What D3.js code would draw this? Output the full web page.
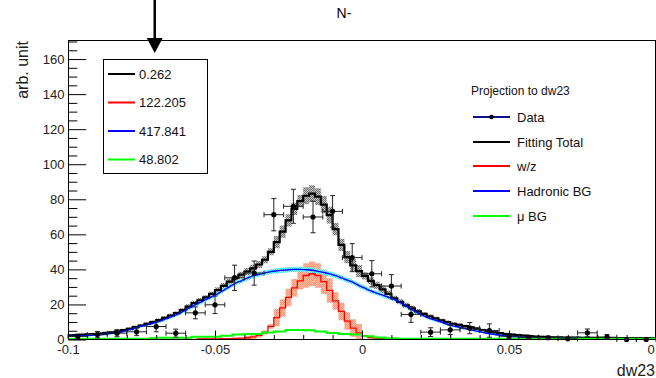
<!doctype html>
<html>
  <head>
    <meta charset="utf-8">
    <script src="https://d3js.org/d3.v7.min.js"></script>
    <style>
      body { margin: 0; background: #fff; }
      text { font-family: "Liberation Sans", Arial, Helvetica, sans-serif; }
    </style>
  </head>
  <body>
    <script>
    /***********************************************/
    /******************** Data *********************/
    /***********************************************/

    // measured points, 30 bins over [-0.1, 0.1]
    const dataY   = [1.8, 2.8, 3.6, 4.4, 7.4, 3.6, 15.2, 19.8, 35.2, 37.9,
                     71.2, 76.0, 69.9, 73.1, 46.7, 37.5, 30.5, 14.3, 4.2, 5.5,
                     6.5, 5.1, 1.9, 1.3, 1.0, 0.4, 3.8, 1.3, 0.0, 0.0];
    const dataErr = [1.2, 1.8, 2.0, 2.2, 3.0, 2.3, 3.4, 5.0, 7.2, 6.9,
                     9.2, 9.7, 9.0, 9.0, 8.0, 7.5, 6.5, 4.5, 2.5, 2.7,
                     3.2, 3.8, 1.4, 1.0, 1.0, 0.8, 2.2, 1.5, 1.0, 0.6];

    // fit templates, 100 bins over [-0.1, 0.1]
    const fitTotal = [2.3, 2.5, 2.7, 2.9, 3.1, 3.4, 3.7, 4.1, 4.6, 5.3,
                      6.1, 7.1, 8.0, 8.9, 9.9, 11.0, 12.3, 13.7, 15.0, 16.8,
                      18.8, 20.8, 22.4, 24.0, 26.0, 28.2, 30.6, 33.0, 35.2, 37.0,
                      38.8, 40.6, 42.8, 45.5, 50.0, 55.5, 61.5, 68.0, 74.5, 79.0,
                      82.0, 83.2, 81.5, 77.0, 71.0, 63.0, 54.0, 47.0, 42.3, 39.0,
                      36.3, 33.5, 31.0, 28.6, 26.0, 23.5, 21.5, 19.5, 17.8, 16.0,
                      14.6, 13.2, 12.0, 10.9, 9.9, 9.0, 8.3, 7.6, 7.0, 6.2,
                      5.4, 4.6, 4.1, 3.6, 3.1, 2.8, 2.5, 2.2, 1.9, 1.7,
                      1.5, 1.35, 1.25, 1.2, 1.15, 1.1, 1.05, 1.0, 1.0, 0.95,
                      0.9, 0.9, 0.85, 0.85, 0.8, 0.8, 0.8, 0.75, 0.75, 0.7];
    const wzFit    = [0, 0, 0, 0, 0, 0, 0, 0, 0, 0,
                      0, 0, 0, 0, 0, 0.1, 0.1, 0.1, 0.1, 0.1,
                      0.1, 0.1, 0.3, 0.3, 0.4, 0.4, 0.5, 0.5, 0.6, 0.8,
                      1.0, 1.5, 2.3, 4.0, 7.5, 12.5, 18.0, 24.0, 29.5, 33.5,
                      36.5, 37.5, 36.5, 33.0, 28.0, 22.0, 16.0, 10.5, 6.5, 3.8,
                      2.0, 1.1, 0.7, 0.5, 0.4, 0.4, 0.3, 0.3, 0.3, 0.3,
                      0.2, 0.2, 0.2, 0.2, 0.2, 0.2, 0.2, 0.2, 0.2, 0.2,
                      0.1, 0.1, 0.1, 0.1, 0.1, 0.1, 0.1, 0.1, 0.1, 0.1,
                      0.1, 0.1, 0.1, 0.1, 0.1, 0.1, 0.1, 0.1, 0.1, 0.1,
                      0.1, 0.1, 0.1, 0.1, 0.1, 0.1, 0.1, 0.1, 0.1, 0.1];
    const hadFit   = [1.9, 2.0, 2.1, 2.3, 2.5, 2.7, 3.1, 3.5, 3.9, 4.7,
                      5.6, 6.6, 7.6, 8.5, 9.4, 10.4, 11.6, 12.9, 14.2, 15.9,
                      17.8, 19.6, 21.2, 22.9, 24.5, 26.2, 28.2, 30.2, 32.1, 33.5,
                      35.0, 36.4, 37.2, 38.0, 38.7, 39.2, 39.5, 39.8, 40.0, 40.0,
                      39.8, 39.5, 38.9, 38.2, 37.4, 36.4, 35.2, 33.9, 32.6, 30.8,
                      29.3, 27.7, 26.5, 25.3, 24.1, 22.9, 21.0, 19.0, 17.0, 15.2,
                      13.5, 12.0, 11.0, 10.0, 8.7, 7.8, 7.0, 6.2, 5.5, 4.8,
                      4.1, 3.4, 2.9, 2.4, 2.0, 1.7, 1.5, 1.3, 1.1, 1.0,
                      0.9, 0.8, 0.75, 0.7, 0.65, 0.6, 0.55, 0.5, 0.5, 0.45,
                      0.45, 0.4, 0.4, 0.4, 0.35, 0.35, 0.35, 0.3, 0.3, 0.3];
    const muFit    = [0.4, 0.4, 0.4, 0.4, 0.4, 0.4, 0.4, 0.4, 0.4, 0.4,
                      0.4, 0.4, 0.4, 0.4, 0.8, 1.0, 1.0, 1.0, 1.0, 1.0,
                      1.0, 1.6, 1.6, 1.6, 1.6, 1.6, 2.2, 2.2, 2.8, 2.8,
                      3.2, 3.2, 3.2, 4.0, 4.0, 4.6, 4.6, 5.4, 5.4, 5.4,
                      5.3, 5.3, 4.6, 4.6, 3.7, 3.7, 3.2, 3.2, 2.8, 2.8,
                      1.9, 1.9, 1.1, 1.1, 0.7, 0.7, 0.4, 0.4, 0.4, 0.4,
                      0.4, 0.4, 0.4, 0.4, 0.4, 0.4, 0.4, 0.4, 0.4, 0.4,
                      0.4, 0.4, 0.4, 0.4, 0.4, 0.4, 0.4, 0.4, 0.4, 0.4,
                      0.4, 0.4, 0.4, 0.4, 0.4, 0.4, 0.4, 0.4, 0.4, 0.4,
                      0.4, 0.4, 0.4, 0.4, 0.4, 0.4, 0.4, 0.4, 0.4, 0.4];

    // uncertainty bands, one half-width per 0.01 slice
    const totalBand = [0.8, 0.8, 0.9, 1.0, 1.3, 1.6, 2.0, 3.5, 4.8, 3.5,
                       2.0, 1.4, 1.0, 0.8, 0.7, 0.6, 0.6, 0.6, 0.6, 0.6];
    const wzBand    = [0, 0, 0, 0, 0.2, 0.4, 1.2, 5.0, 7.0, 5.0,
                       0.6, 0.3, 0.2, 0, 0, 0, 0, 0, 0, 0];
    const hadBand   = [0.5, 0.6, 0.8, 1.0, 1.2, 1.3, 1.4, 1.5, 1.5, 1.4,
                       1.3, 1.1, 0.9, 0.7, 0.6, 0.5, 0.4, 0.4, 0.4, 0.4];

    const xMajor = [-0.1, -0.05, 0, 0.05, 0.1];
    const yMajor = [0, 20, 40, 60, 80, 100, 120, 140, 160];
    const cutValue = -0.0705;

    const boxLabels  = ['0.262', '122.205', '417.841', '48.802'];
    const boxColors  = ['#000', '#ff0000', '#0000ff', '#00ff00'];
    const legLabels  = ['Data', 'Fitting Total', 'w/z', 'Hadronic BG', '\u03bc BG'];
    const legColors  = ['#10108a', '#000', '#ff0000', '#0000ff', '#00ff00'];

    /***********************************************/
    /****************** Scales *********************/
    /***********************************************/

    const width = 656, height = 378;
    const fL = 68, fT = 41, fR = 655.5, fB = 339.5;

    const x = d3.scaleLinear().domain([-0.1, 0.1]).range([fL, 656]);
    const y = d3.scaleLinear().domain([0, 170.3]).range([fB, fT]);

    const svg = d3.select('body').append('svg')
                  .attr('width', width)
                  .attr('height', height);

    const defs = svg.append('defs');
    defs.append('clipPath').attr('id', 'frameClip')
        .append('rect').attr('x', fL).attr('y', fT).attr('width', fR - fL).attr('height', fB - fT);

    function checker(id, bg, fg) {
      const p = defs.append('pattern').attr('id', id)
                    .attr('width', 2).attr('height', 2)
                    .attr('patternUnits', 'userSpaceOnUse');
      p.append('rect').attr('width', 2).attr('height', 2).attr('fill', bg);
      p.append('rect').attr('width', 1).attr('height', 1).attr('fill', fg);
      p.append('rect').attr('x', 1).attr('y', 1).attr('width', 1).attr('height', 1).attr('fill', fg);
    }
    checker('greyFill', '#c4c4c4', '#6e6e6e');
    checker('salmonFill', '#ffc0a8', '#ff9070');
    checker('cyanFill', '#a8f4ff', '#33e0f2');

    /***********************************************/
    /*************** Fit histograms ****************/
    /***********************************************/

    const nFine = fitTotal.length;
    const wFine = 0.2 / nFine;

    // each bin as two points at its edges -> staircase
    function stepPoints(vals, band) {
      const pts = [];
      vals.forEach((v, i) => {
        const e = band ? band[Math.floor(i * band.length / vals.length)] : 0;
        const lo = -0.1 + i * wFine, hi = lo + wFine;
        pts.push({x: lo, v: v, e: e});
        pts.push({x: hi, v: v, e: e});
      });
      return pts;
    }

    const bandArea = d3.area()
      .x(d => x(d.x))
      .y0(d => y(Math.max(0, d.v - d.e)))
      .y1(d => y(d.v + d.e));

    const stepLine = d3.line().x(d => x(d.x)).y(d => y(d.v));

    const plotG = svg.append('g').attr('clip-path', 'url(#frameClip)');

    plotG.append('path').attr('d', bandArea(stepPoints(fitTotal, totalBand)))
         .attr('fill', 'url(#greyFill)');
    plotG.append('path').attr('d', bandArea(stepPoints(wzFit, wzBand)))
         .attr('fill', 'url(#salmonFill)');

    // hadronic BG is a smooth curve through bin centres
    const hadPts = hadFit.map((v, i) => ({x: -0.1 + (i + 0.5) * wFine, v: v,
                                          e: hadBand[Math.floor(i * hadBand.length / nFine)]}));
    hadPts.unshift({x: -0.1, v: hadFit[0], e: hadBand[0]});
    hadPts.push({x: 0.1, v: hadFit[nFine - 1], e: hadBand[hadBand.length - 1]});

    plotG.append('path').attr('d', bandArea.curve(d3.curveMonotoneX)(hadPts))
         .attr('fill', 'url(#cyanFill)');
    bandArea.curve(d3.curveLinear);

    plotG.append('path').attr('d', stepLine(stepPoints(fitTotal)))
         .attr('fill', 'none').attr('stroke', '#000').attr('stroke-width', 2.2);
    plotG.append('path').attr('d', stepLine(stepPoints(wzFit)))
         .attr('fill', 'none').attr('stroke', '#ff0000').attr('stroke-width', 1.3);
    plotG.append('path').attr('d', stepLine.curve(d3.curveMonotoneX)(hadPts))
         .attr('fill', 'none').attr('stroke', '#0000ff').attr('stroke-width', 1.4);
    stepLine.curve(d3.curveLinear);
    plotG.append('path').attr('d', stepLine(stepPoints(muFit)))
         .attr('fill', 'none').attr('stroke', '#00ff00').attr('stroke-width', 2);

    /***********************************************/
    /**************** Data points ******************/
    /***********************************************/

    const wData = 0.2 / dataY.length;
    const pts = dataY.map((v, i) => ({xc: -0.1 + (i + 0.5) * wData, v: v, e: dataErr[i]}));
    const cap = 2.5;

    const ptG = svg.append('g').attr('stroke', '#222').attr('stroke-width', 1);
    pts.forEach(p => {
      const cx = x(p.xc), cy = y(p.v);
      const xl = x(p.xc - wData / 2), xr = x(p.xc + wData / 2);
      const yt = y(p.v + p.e), yb = y(Math.max(0, p.v - p.e));
      ptG.append('line').attr('x1', xl).attr('x2', xr).attr('y1', cy).attr('y2', cy);
      ptG.append('line').attr('x1', cx).attr('x2', cx).attr('y1', yt).attr('y2', yb);
      ptG.append('line').attr('x1', xl).attr('x2', xl).attr('y1', cy - cap).attr('y2', cy + cap);
      ptG.append('line').attr('x1', xr).attr('x2', xr).attr('y1', cy - cap).attr('y2', cy + cap);
      ptG.append('line').attr('x1', cx - cap).attr('x2', cx + cap).attr('y1', yt).attr('y2', yt);
      ptG.append('line').attr('x1', cx - cap).attr('x2', cx + cap).attr('y1', yb).attr('y2', yb);
    });
    svg.append('g').selectAll('circle').data(pts).enter()
       .append('circle')
       .attr('cx', d => x(d.xc)).attr('cy', d => y(d.v))
       .attr('r', 2.6).attr('fill', '#000');

    /***********************************************/
    /******************* Axes **********************/
    /***********************************************/

    svg.append('rect').attr('x', fL + 0.5).attr('y', fT - 0.5)
       .attr('width', fR - fL - 0.5).attr('height', fB - fT + 0.5)
       .attr('fill', 'none').attr('stroke', '#000').attr('stroke-width', 1);

    const xFmt = d => d === 0 ? '0' : String(+d.toFixed(2));
    const xMinor = d3.range(-0.1, 0.1001, 0.01).filter(v => Math.abs(Math.round(v * 20) - v * 20) > 1e-6);
    const yMinor = d3.range(0, 171, 5).filter(v => v % 20 !== 0);

    const xAxisG = svg.append('g').attr('transform', 'translate(0,' + fB + ')');
    xAxisG.call(d3.axisBottom(x).tickValues(xMinor).tickSizeInner(-4.5).tickSizeOuter(0).tickFormat(''));
    xAxisG.append('g').call(d3.axisBottom(x).tickValues(xMajor).tickSizeInner(-9).tickSizeOuter(0)
          .tickPadding(5.5).tickFormat(xFmt));

    const yAxisG = svg.append('g').attr('transform', 'translate(' + (fL + 0.5) + ',0)');
    yAxisG.call(d3.axisLeft(y).tickValues(yMinor).tickSizeInner(-8.8).tickSizeOuter(0).tickFormat(''));
    yAxisG.append('g').call(d3.axisLeft(y).tickValues(yMajor).tickSizeInner(-17.6).tickSizeOuter(0)
          .tickPadding(4).tickFormat(d3.format('d')));

    svg.selectAll('.domain').remove();
    svg.selectAll('.tick line').attr('stroke', '#000');
    svg.selectAll('.tick text').attr('fill', '#222')
       .attr('font-size', 13)
       .attr('font-family', '"Liberation Sans", Arial, sans-serif');

    svg.append('text').attr('transform', 'translate(28,' + fT + ') rotate(-90)')
       .attr('text-anchor', 'end').attr('font-size', 16).attr('fill', '#222')
       .text('arb. unit');
    svg.append('text').attr('x', 655).attr('y', 376)
       .attr('text-anchor', 'end').attr('font-size', 16).attr('fill', '#222')
       .text('dw23');
    svg.append('text').attr('x', 344).attr('y', 18)
       .attr('text-anchor', 'middle').attr('font-size', 14).attr('fill', '#000')
       .text('N-');

    /***********************************************/
    /****************** Cut arrow ******************/
    /***********************************************/

    const ax = x(cutValue);
    svg.append('line').attr('x1', ax).attr('x2', ax).attr('y1', 0).attr('y2', 42)
       .attr('stroke', '#000').attr('stroke-width', 2.5);
    svg.append('path')
       .attr('d', 'M' + (ax - 8) + ',38L' + (ax + 8) + ',38L' + ax + ',53Z')
       .attr('fill', '#000');

    /***********************************************/
    /******************* Legends *******************/
    /***********************************************/

    const boxG = svg.append('g');
    boxG.append('rect').attr('x', 103.5).attr('y', 59.5).attr('width', 104).attr('height', 114)
        .attr('fill', '#fff').attr('stroke', '#000').attr('stroke-width', 1);
    boxLabels.forEach((t, i) => {
      const ry = 74 + i * 28.5;
      boxG.append('line').attr('x1', 108).attr('x2', 135).attr('y1', ry).attr('y2', ry)
          .attr('stroke', boxColors[i]).attr('stroke-width', 2);
      boxG.append('text').attr('x', 139).attr('y', ry + 4.5)
          .attr('font-size', 13).attr('fill', '#111').text(t);
    });

    const legG = svg.append('g');
    legG.append('text').attr('x', 471).attr('y', 95)
        .attr('font-size', 12).attr('fill', '#111').text('Projection to dw23');
    legLabels.forEach((t, i) => {
      const ry = Math.round(117 + i * 24.7);
      legG.append('line').attr('x1', 473).attr('x2', 510).attr('y1', ry).attr('y2', ry)
          .attr('stroke', legColors[i]).attr('stroke-width', 2);
      if (i === 0) {
        legG.append('circle').attr('cx', 491.5).attr('cy', ry).attr('r', 2.3).attr('fill', '#000');
      }
      legG.append('text').attr('x', 517).attr('y', ry + 4.5)
          .attr('font-size', 13).attr('fill', '#111').text(t);
    });
    </script>
  </body>
</html>
